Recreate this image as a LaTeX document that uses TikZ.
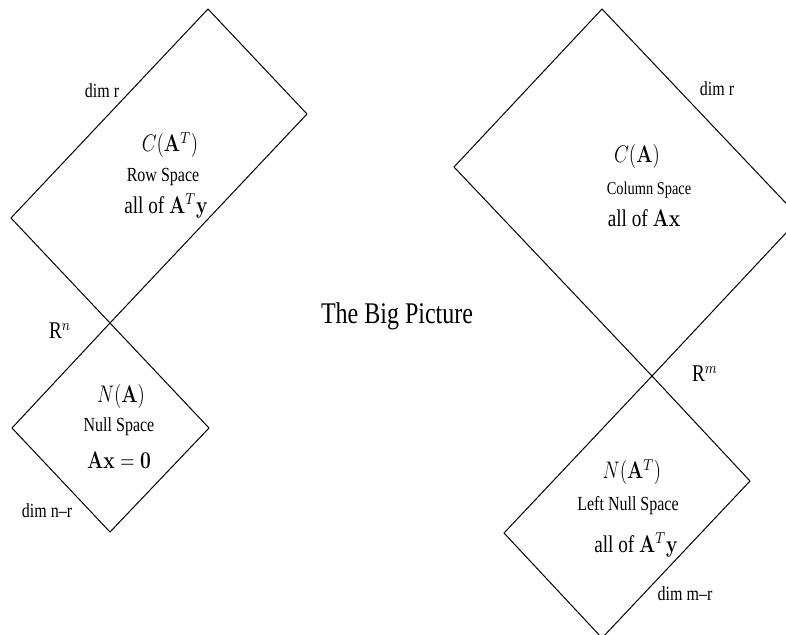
\documentclass[tikz,border=0pt]{standalone}
\usepackage{amsmath}
\usepackage{graphicx}
\usepackage[no-math]{fontspec}
\setmainfont{Liberation Serif}
\usepackage{tikz}
\usetikzlibrary{positioning, calc}

\newcommand{\sq}[1]{\scalebox{0.8}[1]{#1}}

\begin{document}
\begin{tikzpicture}[
      x=0.5pt, y=-0.5pt,
      space/.style={draw, line width=0.5pt, line join=miter},
      every node/.style={align=center, inner sep=0pt},
      txt/.style={font=\fontsize{10}{12}\selectfont},
      smtxt/.style={font=\fontsize{9}{11}\selectfont},
      bigtxt/.style={font=\fontsize{12}{14}\selectfont},
      title/.style={font=\fontsize{15}{18}\selectfont}
    ]
      \useasboundingbox (0,0) rectangle (786,634);

      % corners of the four spaces
      \coordinate (rs-top) at (208,9);
      \coordinate (rs-right) at (307,114);
      \coordinate (rn) at (110,323);
      \coordinate (rs-left) at (11,218);
      \coordinate (ns-right) at (209,428);
      \coordinate (ns-bot) at (110,532);
      \coordinate (ns-left) at (12,428);
      \coordinate (cs-left) at (454,167);
      \coordinate (cs-top) at (602,9);
      \coordinate (cs-right) at (800,218);
      \coordinate (rm) at (652,376);
      \coordinate (ls-right) at (750,481);
      \coordinate (ls-bot) at (602,638);
      \coordinate (ls-left) at (504,533);

      \draw[space] (rs-top) -- (rs-right) -- (rn) -- (rs-left) -- cycle;
      \draw[space] (rn) -- (ns-right) -- (ns-bot) -- (ns-left) -- cycle;
      \draw[space] (cs-top) -- (cs-right) -- (rm) -- (cs-left) -- cycle;
      \draw[space] (rm) -- (ls-right) -- (ls-bot) -- (ls-left) -- cycle;

      \node[txt] (dimr1) at (102,91) {\sq{dim r}};
      \node[bigtxt] (cat) at (170,145) {\sq{$C(\mathbf{A}^T)$}};
      \node[txt] (rowsp) at (163,177) {\sq{Row Space}};
      \node[bigtxt] (allaty1) at (166,206) {\sq{all of $\mathbf{A}^T\mathbf{y}$}};
      \node[bigtxt] (rnlbl) at (60,331) {\sq{R$^n$}};

      \node[bigtxt] (na) at (121,396) {\sq{$N(\mathbf{A})$}};
      \node[txt] (nullsp) at (119,427) {\sq{Null Space}};
      \node[bigtxt] (axz) at (119,460) {\sq{$\mathbf{Ax}=\mathbf{0}$}};
      \node[txt] (dimnr) at (47,511) {\sq{dim n--r}};

      \node[title] (big) at (397,316) {\sq{The Big Picture}};

      \node[txt] (dimr2) at (717,89) {\sq{dim r}};
      \node[bigtxt] (ca) at (637,156) {\sq{$C(\mathbf{A})$}};
      \node[smtxt] (colsp) at (649,190) {\sq{Column Space}};
      \node[bigtxt] (allax) at (644,218) {\sq{all of $\mathbf{Ax}$}};
      \node[bigtxt] (rmlbl) at (705,374) {\sq{R$^m$}};

      \node[bigtxt] (nat) at (632,472) {\sq{$N(\mathbf{A}^T)$}};
      \node[txt] (lnullsp) at (628,506) {\sq{Left Null Space}};
      \node[bigtxt] (allaty2) at (636,545) {\sq{all of $\mathbf{A}^T\mathbf{y}$}};
      \node[txt] (dimmr) at (685,594) {\sq{dim m--r}};
    \end{tikzpicture}
\end{document}
